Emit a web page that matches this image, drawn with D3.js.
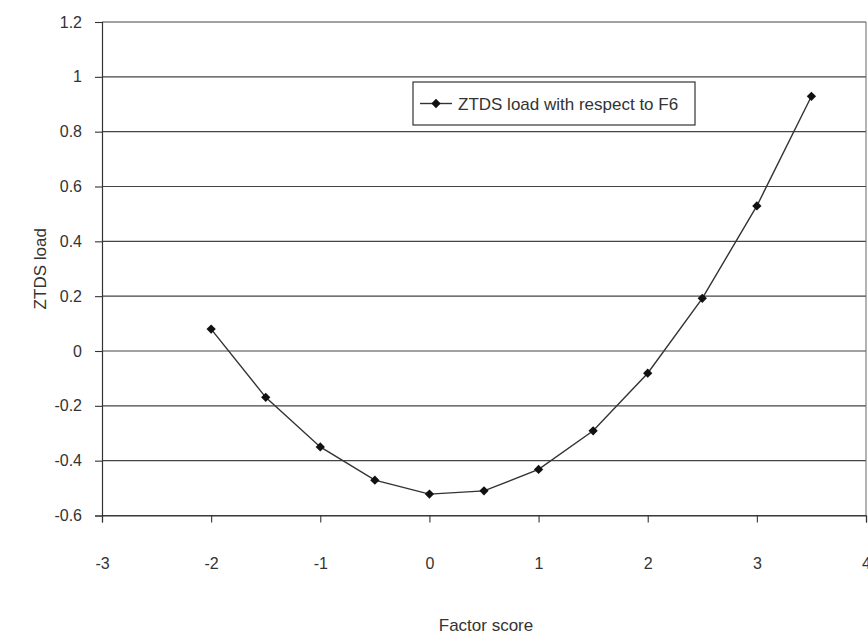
<!DOCTYPE html>
<html><head><meta charset="utf-8">
<script src="https://cdn.jsdelivr.net/npm/d3@7"></script>
<style>
body{margin:0;background:#fff;}
text{font-family:"Liberation Sans",Arial,sans-serif;fill:#333;}
</style></head>
<body>
<svg id="chart" width="868" height="635"></svg>
<script>
const xValues = [-2, -1.5, -1, -0.5, 0, 0.5, 1, 1.5, 2, 2.5, 3, 3.5];
const ztdsLoad = [0.08, -0.169, -0.35, -0.471, -0.522, -0.51, -0.432, -0.291, -0.081, 0.192, 0.529, 0.929];
const xTicks = [-3, -2, -1, 0, 1, 2, 3, 4];
const yTicks = [-0.6, -0.4, -0.2, 0, 0.2, 0.4, 0.6, 0.8, 1, 1.2];
const seriesName = "ZTDS load with respect to F6";
const xTitle = "Factor score";
const yTitle = "ZTDS load";

const svg = d3.select("#chart");
const L = 102, R = 866, T = 22, B = 515.5;
const x = d3.scaleLinear().domain([-3, 4]).range([L, R]);
const y = d3.scaleLinear().domain([-0.6, 1.2]).range([B, T]);
const ink = "#333";
const fmt = d => String(Math.round(d * 10) / 10);

// gridlines
svg.append("g").selectAll("line").data(yTicks).join("line")
  .attr("x1", L).attr("x2", R).attr("y1", d => y(d)).attr("y2", d => y(d))
  .attr("stroke", "#444").attr("stroke-width", 1.1);
// right border
svg.append("line").attr("x1", R).attr("x2", R).attr("y1", T).attr("y2", B)
  .attr("stroke", "#666").attr("stroke-width", 1);

// y axis
const yAxis = d3.axisLeft(y).tickValues(yTicks).tickSize(7).tickPadding(13).tickFormat(fmt);
const gy = svg.append("g").attr("transform", `translate(${L},0)`).call(yAxis);
gy.select(".domain").attr("stroke", ink).attr("stroke-width", 1.2);
gy.selectAll(".tick line").attr("stroke", ink).attr("stroke-width", 1.1);
gy.selectAll(".tick text").attr("font-size", 16).attr("fill", "#333")
  .style("font-family", '"Liberation Sans",Arial,sans-serif');

// x axis
const xAxis = d3.axisBottom(x).tickValues(xTicks).tickSize(7).tickPadding(35).tickFormat(fmt);
const gx = svg.append("g").attr("transform", `translate(0,${B})`).call(xAxis);
gx.select(".domain").attr("stroke", ink).attr("stroke-width", 1.2);
gx.selectAll(".tick line").attr("stroke", ink).attr("stroke-width", 1.1);
gx.selectAll(".tick text").attr("font-size", 16).attr("fill", "#333")
  .style("font-family", '"Liberation Sans",Arial,sans-serif');

// titles
svg.append("text").attr("x", 486).attr("y", 631).attr("text-anchor", "middle")
  .attr("font-size", 17).text(xTitle);
svg.append("text").attr("transform", `translate(46,${y(0.3)}) rotate(-90)`)
  .attr("text-anchor", "middle").attr("font-size", 17).text(yTitle);

// series
const data = xValues.map((v, i) => ({x: v, y: ztdsLoad[i]}));
const line = d3.line().x(d => x(d.x)).y(d => y(d.y));
svg.append("path").datum(data).attr("d", line).attr("fill", "none")
  .attr("stroke", ink).attr("stroke-width", 1.4);
const diamond = d3.symbol().type(d3.symbolDiamond2).size(55);
svg.append("g").selectAll("path").data(data).join("path")
  .attr("d", diamond).attr("transform", d => `translate(${x(d.x)},${y(d.y)})`)
  .attr("fill", "#111");

// legend
const lg = svg.append("g");
lg.append("rect").attr("x", 413).attr("y", 82).attr("width", 282).attr("height", 43)
  .attr("fill", "#fff").attr("stroke", ink).attr("stroke-width", 1.2);
lg.append("line").attr("x1", 420).attr("x2", 452).attr("y1", 103.5).attr("y2", 103.5)
  .attr("stroke", ink).attr("stroke-width", 1.4);
lg.append("path").attr("d", diamond).attr("transform", "translate(436,103.5)").attr("fill", "#111");
lg.append("text").attr("x", 458).attr("y", 109.5).attr("font-size", 17).text(seriesName);
</script>
</body></html>
